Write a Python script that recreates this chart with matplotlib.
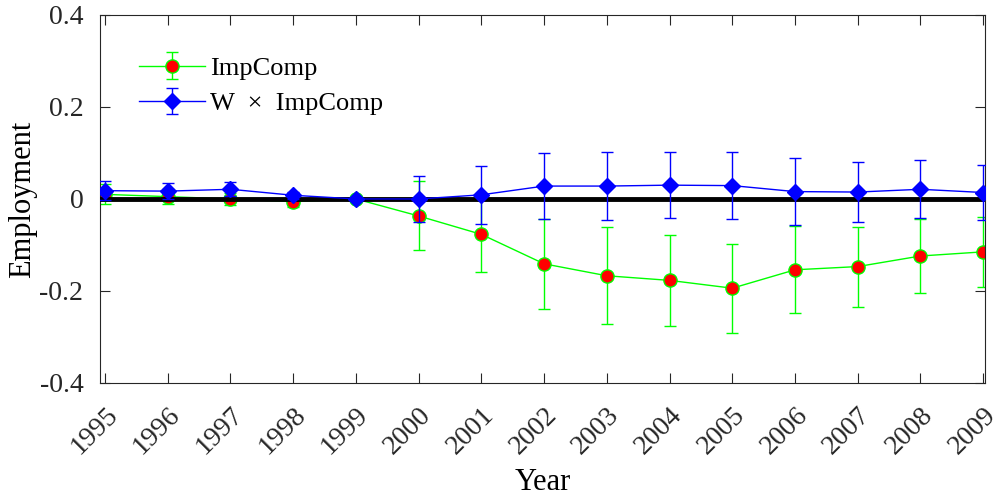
import numpy as np
import matplotlib
matplotlib.use("Agg")
import matplotlib.pyplot as plt
import matplotlib.transforms as mtransforms

plt.rcParams['font.family'] = ['Liberation Serif', 'DejaVu Serif']

years = np.arange(1995, 2010)
year_labels = [str(y) for y in years]

# ImpComp
imp = [0.010, 0.005, 0.000, -0.006, 0.000, -0.037, -0.077, -0.141, -0.167,
       -0.177, -0.194, -0.154, -0.147, -0.124, -0.115]
imp_err = [0.022, 0.016, 0.014, 0.011, 0.0, 0.075, 0.082, 0.098, 0.105,
           0.099, 0.097, 0.095, 0.087, 0.081, 0.076]

# W x ImpComp
wimp = [0.018, 0.017, 0.021, 0.008, 0.000, 0.000, 0.009, 0.028, 0.028,
        0.030, 0.029, 0.016, 0.015, 0.021, 0.014]
wimp_err = [0.020, 0.018, 0.015, 0.008, 0.0, 0.050, 0.063, 0.071, 0.074,
            0.071, 0.072, 0.073, 0.066, 0.063, 0.060]

fig = plt.figure(figsize=(9.94, 4.98), dpi=100)
ax = fig.add_axes([0.1006, 0.231, 0.8904, 0.739])

ax.errorbar(years, imp, yerr=imp_err, color=(0, 1, 0), lw=1, marker='o',
            markersize=9.5, markerfacecolor='red', markeredgecolor=(0, 1, 0),
            capsize=4.5, elinewidth=1, capthick=1, label='ImpComp', zorder=2)
ax.axhline(0, color='black', lw=3.5, zorder=3)
ax.errorbar(years, wimp, yerr=wimp_err, color='blue', lw=1, marker='D',
            markersize=8.5, markerfacecolor='blue', markeredgecolor='blue',
            capsize=4.5, elinewidth=1, capthick=1,
            label='W  \u00d7  ImpComp', zorder=4)

ax.set_xlim(1994.92, 2009.03)
ax.set_ylim(-0.4, 0.4)
ax.set_xticks(years)
ax.set_xticklabels(year_labels, rotation=45, ha='right', va='top',
                   rotation_mode='anchor')
shift = mtransforms.ScaledTranslation(13 / 100, 0, fig.dpi_scale_trans)
for lab in ax.get_xticklabels():
    lab.set_transform(lab.get_transform() + shift)
ax.set_yticks([-0.4, -0.2, 0, 0.2, 0.4])
ax.set_yticklabels(['-0.4', '-0.2', '0', '0.2', '0.4'])
ax.tick_params(direction='in', top=True, right=True, labelsize=20,
               colors=(0.15, 0.15, 0.15), length=7)
ax.tick_params(axis='y', pad=12)
ax.tick_params(axis='x', pad=14)
for s in ax.spines.values():
    s.set_color((0.15, 0.15, 0.15))
ax.set_xlabel('Year', fontsize=22, labelpad=6)
ax.set_ylabel('Employment', fontsize=22, labelpad=2)

ax.legend(loc='upper left', bbox_to_anchor=(0.017, 0.952), frameon=False,
          fontsize=19, handlelength=2.5, labelspacing=0.45, handletextpad=0.2)

fig.savefig('out.png', dpi=100)
